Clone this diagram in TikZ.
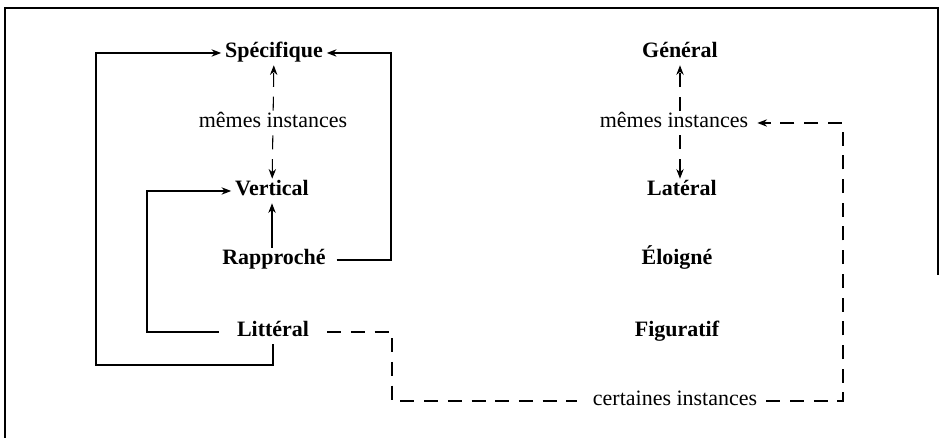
\documentclass[tikz,border=0pt]{standalone}
\usepackage{fontspec}
\setmainfont{Liberation Serif}
\usetikzlibrary{arrows.meta}

\begin{document}
\begin{tikzpicture}[x=0.02cm,y=0.02cm,>={Stealth[length=5.5pt,width=4.2pt]},line width=0.6pt]
    \tikzset{
        terme/.style={font=\fontsize{12.5}{15}\selectfont\bfseries,inner sep=2pt,text height=1.6ex,text depth=0.45ex},
        lien/.style={font=\fontsize{12.5}{15}\selectfont,inner sep=2pt,text height=1.6ex,text depth=0.45ex},
        pointille/.style={dash pattern=on 8pt off 5.5pt}
    }
    \useasboundingbox (0,0) rectangle (940,438);

    % Cadre
    \draw[line width=1.3pt] (5,0) -- (5,430) -- (938,430) -- (938,163);

    % Colonne de gauche
    \node[terme] (spec) at (274,385) {Spécifique};
    \node[lien] (memesG) at (273,315) {mêmes instances};
    \node[terme] (vert) at (272,247) {Vertical};
    \node[terme] (rapp) at (274,178) {Rapproché};
    \node[terme] (litt) at (273,106) {Littéral};

    % Colonne de droite
    \node[terme] (gen) at (680,385) {Général};
    \node[lien] (memesD) at (674,315) {mêmes instances};
    \node[terme] (lat) at (682,247) {Latéral};
    \node[terme] (eloi) at (677,178) {Éloigné};
    \node[terme] (fig) at (677,106) {Figuratif};
    \node[lien] (cert) at (675,37) {certaines instances};

    % Points de coude
    \coordinate (gA) at (96,73);
    \coordinate (gB) at (147,0);
    \coordinate (gC) at (391,0);
    \coordinate (gD) at (392,0);
    \coordinate (gE) at (843,0);

    % Liens pleins
    \draw[->] (litt.south) |- (gA) |- (spec.west);
    \draw[->,shorten <=8pt] (litt.west) -| (gB |- vert.west) -- (vert.west);
    \draw[->,shorten <=4pt] (rapp.east) -| (gC |- spec.east) -- (spec.east);
    \draw[->] (rapp.north -| vert) -- (vert.south);

    % Liens pointillés
    \draw[pointille,->] (memesG) -- (spec);
    \draw[pointille,->] (memesG) -- (vert);
    \draw[pointille,->] (memesD.north -| gen) -- (gen.south);
    \draw[pointille,->] (memesD.south -| gen) -- (lat.north -| gen);
    \draw[pointille,shorten <=8pt,shorten >=7pt] (litt.east) -| (gD |- cert) -- (cert.west);
    \draw[pointille,->,shorten <=3pt,shorten >=3pt] (cert.east) -| (gE |- memesD) -- (memesD.east);
\end{tikzpicture}
\end{document}
